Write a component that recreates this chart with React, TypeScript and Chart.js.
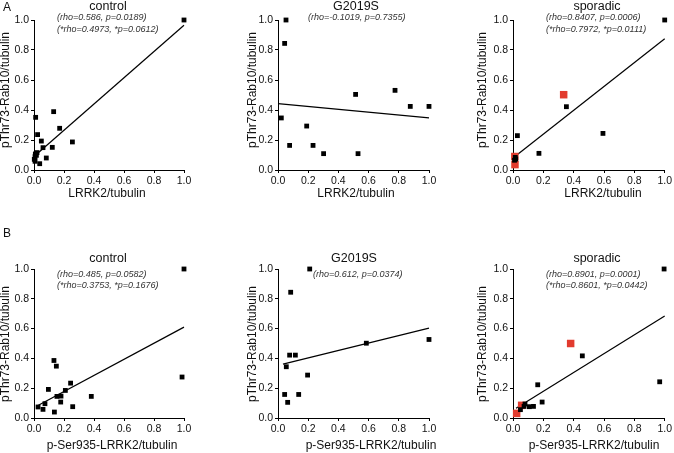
import React, { useEffect, useRef } from 'react';
import { Chart, registerables } from 'chart.js';

Chart.register(...registerables);

// ---------- data ----------
const tickValues = [0, 0.2, 0.4, 0.6, 0.8, 1.0];

// Row A: pThr73-Rab10/tubulin vs LRRK2/tubulin
const aCtrlX = [1.0, 0.011, 0.131, 0.171, 0.024, 0.049, 0.256, 0.06, 0.122, 0.082, 0.038, 0.009, 0.02, 0.007, 0.002, 0.007, 0.016];
const aCtrlY = [1.0, 0.351, 0.389, 0.278, 0.236, 0.193, 0.187, 0.149, 0.151, 0.08, 0.042, 0.107, 0.116, 0.089, 0.071, 0.058, 0.098];
const aCtrlFitX = [0, 1.0];
const aCtrlFitY = [0.09, 0.965];

const aG2019X = [0.053, 0.044, 0.022, 0.077, 0.19, 0.232, 0.302, 0.514, 0.53, 0.775, 0.876, 1.0];
const aG2019Y = [1.0, 0.844, 0.347, 0.164, 0.293, 0.164, 0.109, 0.504, 0.109, 0.531, 0.424, 0.424];
const aG2019FitX = [0, 1.0];
const aG2019FitY = [0.442, 0.348];

const aSporX = [1.0, 0.352, 0.593, 0.171, 0.029, 0.015, 0.018, 0.01];
const aSporY = [1.0, 0.422, 0.244, 0.111, 0.229, 0.084, 0.073, 0.065];
const aSporRedX = [0.334, 0.013, 0.012];
const aSporRedY = [0.502, 0.036, 0.09];
const aSporFitX = [0, 1.0];
const aSporFitY = [0.08, 0.875];

// Row B: pThr73-Rab10/tubulin vs p-Ser935-LRRK2/tubulin
const bCtrlX = [1.0, 0.987, 0.133, 0.149, 0.096, 0.244, 0.209, 0.153, 0.18, 0.178, 0.382, 0.073, 0.027, 0.06, 0.136, 0.258];
const bCtrlY = [1.0, 0.275, 0.386, 0.348, 0.192, 0.234, 0.185, 0.145, 0.147, 0.107, 0.145, 0.096, 0.074, 0.058, 0.04, 0.076];
const bCtrlFitX = [0.02, 1.0];
const bCtrlFitY = [0.08, 0.61];

const bG2019X = [0.21, 0.084, 0.077, 0.115, 0.055, 0.196, 0.044, 0.137, 0.064, 0.585, 1.0];
const bG2019Y = [1.0, 0.844, 0.422, 0.422, 0.344, 0.288, 0.158, 0.158, 0.105, 0.502, 0.527];
const bG2019FitX = [0.033, 1.0];
const bG2019FitY = [0.362, 0.603];

const bSporX = [0.996, 0.967, 0.457, 0.163, 0.192, 0.135, 0.108, 0.079, 0.073, 0.049];
const bSporY = [1.0, 0.243, 0.417, 0.223, 0.107, 0.078, 0.076, 0.094, 0.078, 0.056];
const bSporRedX = [0.38, 0.057, 0.024];
const bSporRedY = [0.5, 0.085, 0.031];
const bSporFitX = [0.02, 1.0];
const bSporFitY = [0.065, 0.685];

const groupTitles = ['control', 'G2019S', 'sporadic'];
const yAxisTitle = 'pThr73-Rab10/tubulin';
const xAxisTitles = ['LRRK2/tubulin', 'p-Ser935-LRRK2/tubulin'];
const panelLetters = ['A', 'B'];
const statsA = [
  ['(rho=0.586, p=0.0189)', '(*rho=0.4973, *p=0.0612)'],
  ['(rho=-0.1019, p=0.7355)'],
  ['(rho=0.8407, p=0.0006)', '(*rho=0.7972, *p=0.0111)'],
];
const statsB = [
  ['(rho=0.485, p=0.0582)', '(*rho=0.3753, *p=0.1676)'],
  ['(rho=0.612, p=0.0374)'],
  ['(rho=0.8901, p=0.0001)', '(*rho=0.8601, *p=0.0442)'],
];

// ---------- layout / style ----------
const FONT = '"Liberation Sans", Arial, Helvetica, sans-serif';
const RED = '#e23b2e';
const W = 674;
const H = 453;
const colCx = [0, 225, 450];
const colCw = [225, 225, 224];
const rowCy = [0, 226];
const rowCh = [226, 227];
const colL = [34, 278, 513];
const colR = [184, 429, 665];
const rowT = [20, 269];
const rowB = [170, 418];
const Y_AXIS_W = 28;
const X_AXIS_H = 16;

type TextItem = { text: string; x: number; y: number; font: string; align?: CanvasTextAlign; rotate?: number; color?: string };

const zip = (xs: number[], ys: number[]) => xs.map((x, i) => ({ x, y: ys[i] }));

type PanelDef = {
  row: number;
  col: number;
  blackX: number[];
  blackY: number[];
  redX?: number[];
  redY?: number[];
  fitX: number[];
  fitY: number[];
  texts: TextItem[];
};

const titleFont = `12.5px ${FONT}`;
const axisTitleFont = `12px ${FONT}`;
const noteFont = `italic 9px ${FONT}`;

const titleCenters = [
  [[108, 7], [356, 7], [597, 7]],
  [[108, 259], [354, 259], [597, 259]],
];
const noteStarts = [
  [[57, 17], [308, 17], [546, 17]],
  [[57, 274], [313, 274], [546, 274]],
];
const noteDy = [12, 11.5];
const xTitlePos = [
  [[107, 194], [356, 194], [603, 194]],
  [[112, 446], [371, 446], [594, 446]],
];
const yTitleX = [6, 253, 483];
const yTitleY = [90, 344];
const letterPos = [[3, 8], [3, 234]];

function buildTexts(row: number, col: number): TextItem[] {
  const items: TextItem[] = [];
  const [tx, ty] = titleCenters[row][col];
  items.push({ text: groupTitles[col], x: tx, y: ty, font: titleFont });
  const notes = row === 0 ? statsA[col] : statsB[col];
  const [nx, ny] = noteStarts[row][col];
  notes.forEach((n, i) => items.push({ text: n, x: nx, y: ny + i * noteDy[row], font: noteFont, align: 'left', color: '#333' }));
  const [xx, xy] = xTitlePos[row][col];
  items.push({ text: xAxisTitles[row], x: xx, y: xy, font: axisTitleFont });
  items.push({ text: yAxisTitle, x: yTitleX[col], y: yTitleY[row], font: axisTitleFont, rotate: -Math.PI / 2 });
  if (col === 0) {
    const [lx, ly] = letterPos[row];
    items.push({ text: panelLetters[row], x: lx, y: ly, font: axisTitleFont, align: 'left' });
  }
  return items;
}

const panels: PanelDef[] = [
  { row: 0, col: 0, blackX: aCtrlX, blackY: aCtrlY, fitX: aCtrlFitX, fitY: aCtrlFitY, texts: buildTexts(0, 0) },
  { row: 0, col: 1, blackX: aG2019X, blackY: aG2019Y, fitX: aG2019FitX, fitY: aG2019FitY, texts: buildTexts(0, 1) },
  { row: 0, col: 2, blackX: aSporX, blackY: aSporY, redX: aSporRedX, redY: aSporRedY, fitX: aSporFitX, fitY: aSporFitY, texts: buildTexts(0, 2) },
  { row: 1, col: 0, blackX: bCtrlX, blackY: bCtrlY, fitX: bCtrlFitX, fitY: bCtrlFitY, texts: buildTexts(1, 0) },
  { row: 1, col: 1, blackX: bG2019X, blackY: bG2019Y, fitX: bG2019FitX, fitY: bG2019FitY, texts: buildTexts(1, 1) },
  { row: 1, col: 2, blackX: bSporX, blackY: bSporY, redX: bSporRedX, redY: bSporRedY, fitX: bSporFitX, fitY: bSporFitY, texts: buildTexts(1, 2) },
];

function axisOptions(isX: boolean) {
  return {
    type: 'linear' as const,
    min: 0,
    max: 1,
    afterBuildTicks: (scale: any) => {
      scale.ticks = tickValues.map((v) => ({ value: v }));
    },
    afterFit: (scale: any) => {
      if (isX) scale.height = X_AXIS_H;
      else scale.width = Y_AXIS_W;
    },
    grid: {
      display: true,
      drawOnChartArea: false,
      drawTicks: true,
      tickLength: 3,
      color: '#000',
      lineWidth: 1,
    },
    border: { display: true, color: '#000', width: 1 },
    ticks: {
      autoSkip: false,
      maxRotation: 0,
      padding: 2,
      color: '#111',
      font: { family: FONT, size: 10.5 },
      callback: (v: any) => Number(v).toFixed(1),
    },
    title: { display: false },
  };
}

function Panel({ def }: { def: PanelDef }) {
  const ref = useRef<HTMLCanvasElement | null>(null);
  const cx = colCx[def.col];
  const cy = rowCy[def.row];
  const cw = colCw[def.col];
  const ch = rowCh[def.row];

  useEffect(() => {
    if (!ref.current) return;
    const L = colL[def.col];
    const R = colR[def.col];
    const T = rowT[def.row];
    const B = rowB[def.row];
    const padding = {
      left: L - cx - Y_AXIS_W,
      right: cx + cw - R,
      top: T - cy,
      bottom: cy + ch - B - X_AXIS_H,
    };
    const texts = def.texts;
    const textPlugin = {
      id: 'panelText',
      afterDraw(chart: any) {
        const ctx = chart.ctx as CanvasRenderingContext2D;
        for (const it of texts) {
          ctx.save();
          ctx.font = it.font;
          ctx.fillStyle = it.color || '#111';
          ctx.textAlign = it.align || 'center';
          ctx.textBaseline = 'middle';
          ctx.translate(it.x - cx, it.y - cy);
          if (it.rotate) ctx.rotate(it.rotate);
          ctx.fillText(it.text, 0, 0);
          ctx.restore();
        }
      },
    };

    const datasets: any[] = [
      {
        type: 'scatter',
        label: 'samples',
        data: zip(def.blackX, def.blackY),
        pointStyle: 'rect',
        pointRadius: 3.4,
        pointBorderWidth: 0,
        backgroundColor: '#000',
        borderColor: '#000',
        clip: false,
      },
    ];
    if (def.redX && def.redY) {
      datasets.push({
        type: 'scatter',
        label: 'highlighted',
        data: zip(def.redX, def.redY),
        pointStyle: 'rect',
        pointRadius: 5.3,
        pointBorderWidth: 0,
        backgroundColor: RED,
        borderColor: RED,
        clip: false,
      });
    }
    datasets.push({
      type: 'line',
      label: 'fit',
      data: zip(def.fitX, def.fitY),
      borderColor: '#000',
      borderWidth: 1.2,
      pointRadius: 0,
      fill: false,
      tension: 0,
      clip: false,
    });

    const chart = new Chart(ref.current, {
      type: 'scatter',
      data: { datasets },
      options: {
        animation: false,
        responsive: false,
        devicePixelRatio: 1,
        layout: { padding },
        plugins: {
          legend: { display: false },
          tooltip: { enabled: false },
          title: { display: false },
        },
        scales: {
          x: axisOptions(true) as any,
          y: axisOptions(false) as any,
        },
      },
      plugins: [textPlugin],
    });
    return () => chart.destroy();
  }, [def]);

  return (
    <canvas
      ref={ref}
      width={cw}
      height={ch}
      style={{ position: 'absolute', left: cx, top: cy, width: cw, height: ch }}
    />
  );
}

export default function App() {
  return (
    <div style={{ position: 'absolute', left: 0, top: 0, width: W, height: H, background: '#fff', overflow: 'hidden' }}>
      {panels.map((p, i) => (
        <Panel key={i} def={p} />
      ))}
    </div>
  );
}
